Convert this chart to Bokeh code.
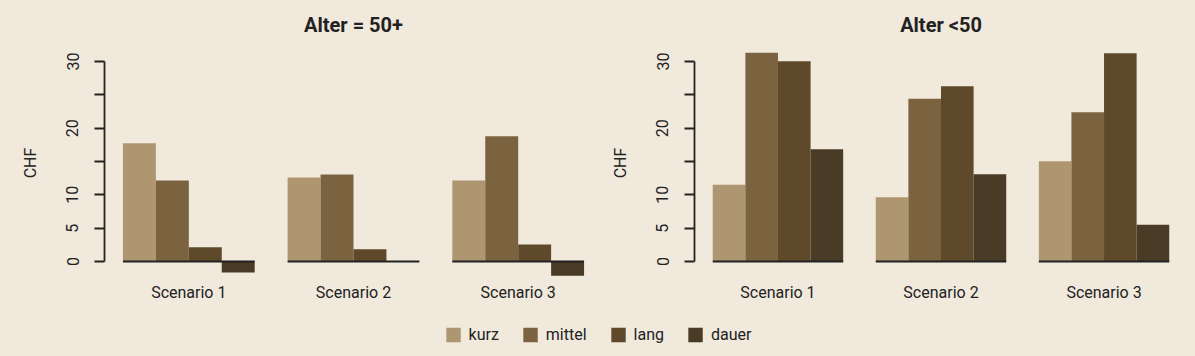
from bokeh.plotting import figure
from bokeh.models import Range1d, FixedTicker, Legend, LegendItem
from bokeh.layouts import column, row
from bokeh.embed import file_html
from bokeh.resources import INLINE

# ---------------- data ----------------
scenarios = ["Scenario 1", "Scenario 2", "Scenario 3"]
categories = ["kurz", "mittel", "lang", "dauer"]
colors = ["#AE9671", "#7B6340", "#5E4A2B", "#4A3B27"]

# Alter = 50+
kurz_50plus = [17.75, 12.6, 12.15]
mittel_50plus = [12.15, 13.05, 18.8]
lang_50plus = [2.15, 1.85, 2.55]
dauer_50plus = [-1.65, 0.0, -2.15]

# Alter <50
kurz_u50 = [11.5, 9.65, 15.05]
mittel_u50 = [31.3, 24.4, 22.4]
lang_u50 = [30.05, 26.3, 31.25]
dauer_u50 = [16.85, 13.1, 5.5]

y_ticks = [0, 5, 10, 15, 20, 25, 30]
y_hidden_labels = [15, 25]

BG = "#F0E9DC"
INK = "#222222"
FONT = "Roboto"


def make_panel(title, series, width, border_left, border_right):
    p = figure(width=width, height=312, output_backend="svg", toolbar_location=None,
               x_range=Range1d(0.44, 15.56), y_range=Range1d(-3.0, 32.55),
               min_border_left=border_left, min_border_right=border_right,
               min_border_top=44, min_border_bottom=31,
               background_fill_color=BG, border_fill_color=BG, outline_line_color=None)
    p.grid.visible = False
    p.title.text = title
    p.title.align = "center"
    p.title.text_font = FONT
    p.title.text_font_size = "20px"
    p.title.text_font_style = "bold"
    p.title.text_color = INK
    p.title.standoff = 16

    n_cat = len(series)
    stride = n_cat + 1
    for i, (vals, col) in enumerate(zip(series, colors)):
        xs = [1 + g * stride + i + 0.5 for g in range(len(vals))]
        p.vbar(x=xs, top=vals, bottom=0, width=1.0, fill_color=col, line_color=None)
    x0 = [1 + g * stride for g in range(len(scenarios))]
    x1 = [1 + g * stride + n_cat for g in range(len(scenarios))]
    p.segment(x0=x0, y0=[0] * len(x0), x1=x1, y1=[0] * len(x1), line_color=INK, line_width=1.8)

    # x axis: scenario labels only
    centers = [1 + g * stride + n_cat / 2 for g in range(len(scenarios))]
    p.xaxis.ticker = FixedTicker(ticks=centers)
    p.xaxis.major_label_overrides = {c: s for c, s in zip(centers, scenarios)}
    p.xaxis.axis_line_color = None
    p.xaxis.major_tick_line_color = None
    p.xaxis.minor_tick_line_color = None
    p.xaxis.major_tick_out = 0
    p.xaxis.major_label_standoff = 1
    p.xaxis.major_label_text_font = FONT
    p.xaxis.major_label_text_font_size = "16px"
    p.xaxis.major_label_text_color = INK

    # y axis
    p.yaxis.ticker = FixedTicker(ticks=y_ticks)
    p.yaxis.major_label_overrides = {t: "" for t in y_hidden_labels}
    p.yaxis.bounds = (y_ticks[0], y_ticks[-1])
    p.yaxis.axis_line_color = INK
    p.yaxis.axis_line_width = 1.8
    p.yaxis.major_tick_line_color = INK
    p.yaxis.major_tick_line_width = 1.8
    p.yaxis.major_tick_out = 10
    p.yaxis.major_tick_in = 0
    p.yaxis.minor_tick_line_color = None
    p.yaxis.major_label_orientation = "vertical"
    p.yaxis.major_label_standoff = 16
    p.yaxis.major_label_text_font = FONT
    p.yaxis.major_label_text_font_size = "16px"
    p.yaxis.major_label_text_color = INK
    p.yaxis.axis_label = "CHF"
    p.yaxis.axis_label_text_font = FONT
    p.yaxis.axis_label_text_font_size = "16px"
    p.yaxis.axis_label_text_font_style = "normal"
    p.yaxis.axis_label_text_color = INK
    p.yaxis.axis_label_standoff = 24
    return p


p1 = make_panel("Alter = 50+", [kurz_50plus, mittel_50plus, lang_50plus, dauer_50plus],
                602, 104, 0)
p2 = make_panel("Alter <50", [kurz_u50, mittel_u50, lang_u50, dauer_u50],
                593, 92, 8)

# legend strip
pl = figure(width=1195, height=44, output_backend="svg", toolbar_location=None,
            x_axis_location=None, y_axis_location=None,
            x_range=Range1d(0, 1), y_range=Range1d(0, 1),
            min_border=0, background_fill_color=BG, border_fill_color=BG,
            outline_line_color=None)
pl.grid.visible = False
items = []
for cat, col in zip(categories, colors):
    r = pl.vbar(x=[-10], top=[-10], bottom=[-11], width=0.1, fill_color=col, line_color=None)
    items.append(LegendItem(label=cat, renderers=[r]))
legend = Legend(items=items, orientation="horizontal", location="center",
                glyph_width=18, glyph_height=18, label_standoff=7, spacing=22,
                padding=0, margin=0, border_line_color=None, background_fill_alpha=0,
                label_text_font=FONT, label_text_font_size="16px", label_text_color=INK)
pl.add_layout(legend, "center")

layout = column(row(p1, p2), pl)
layout.styles = {"background-color": BG}

open("out.html", "w").write(file_html(layout, INLINE))
